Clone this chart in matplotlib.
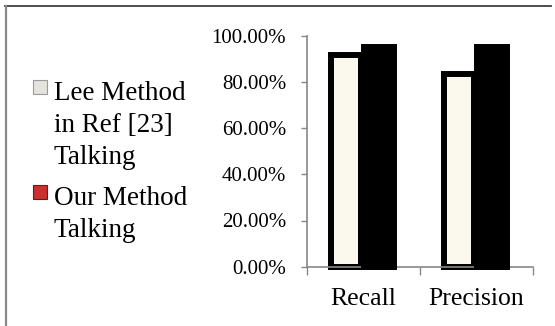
import numpy as np
import matplotlib.pyplot as plt
from matplotlib.patches import Rectangle
from matplotlib.lines import Line2D

plt.rcParams['font.family'] = ['Liberation Serif', 'DejaVu Serif']

categories = ['Recall', 'Precision']
lee_values = [0.915, 0.835]
our_values = [0.952, 0.952]
series_labels = ['Lee Method\nin Ref [23]\nTalking', 'Our Method\nTalking']
legend_colors = ['#e4e3dc', '#c8312f']
legend_edges = ['#9a9a9a', '#7a1414']
yticks = [0, 0.2, 0.4, 0.6, 0.8, 1.0]
ytick_labels = ['0.00%', '20.00%', '40.00%', '60.00%', '80.00%', '100.00%']

W, H = 555, 326
fig = plt.figure(figsize=(W / 100, H / 100), dpi=100)
ax = fig.add_axes([307 / W, 1 - 266.7 / H, 226 / W, 231 / H])

x = np.arange(len(categories))
bw = 0.27
ax.bar(x - 0.155, lee_values, bw, color='#fbf9ee', edgecolor='black',
       linewidth=4.3, clip_on=False, zorder=2)
ax.bar(x + 0.135, our_values, bw, color='black', edgecolor='black',
       linewidth=4.3, clip_on=False, zorder=3)

ax.set_xlim(-0.5, 1.5)
ax.set_ylim(0, 1)
ax.set_yticks(yticks)
ax.set_yticklabels(ytick_labels, fontsize=15)
ax.set_xticks([-0.5, 0.5, 1.5])
ax.set_xticklabels([])
ax.set_xticks(x, minor=True)
ax.set_xticklabels(categories, minor=True, fontsize=18.5)
ax.tick_params(axis='x', which='major', length=6, color='#888888', width=1)
ax.tick_params(axis='x', which='minor', length=0, pad=15)
ax.tick_params(axis='y', length=4, color='#888888', width=1, pad=11)
for side in ['top', 'right']:
    ax.spines[side].set_visible(False)
for side in ['left', 'bottom']:
    ax.spines[side].set_color('#888888')
    ax.spines[side].set_linewidth(1.2)

# legend drawn by hand, marker next to first line
marker_tops = [80, 185]
for lab, fc, ec, yt in zip(series_labels, legend_colors, legend_edges, marker_tops):
    fig.patches.append(Rectangle((33 / W, 1 - (yt + 14) / H), 14 / W, 14 / H,
                                 transform=fig.transFigure, facecolor=fc,
                                 edgecolor=ec, linewidth=0.8))
    fig.text(54 / W, 1 - (yt + 1) / H, lab, fontsize=19.5, va='top',
             ha='left', linespacing=1.38)

# outer frame
fig.lines.append(Line2D([5 / W, 551 / W], [1 - 6 / H, 1 - 6 / H],
                        transform=fig.transFigure, color='#404040', lw=1.3))
fig.lines.append(Line2D([5.5 / W, 5.5 / W], [1 - 6 / H, 0],
                        transform=fig.transFigure, color='#888888', lw=1.6))

fig.savefig('out.png', dpi=100)
